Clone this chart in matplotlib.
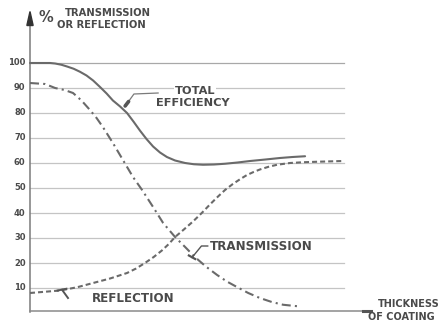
import matplotlib
matplotlib.use("Agg")
import matplotlib.pyplot as plt
from matplotlib.patches import Polygon

plt.rcParams["lines.scale_dashes"] = False
plt.rcParams["font.family"] = ["DejaVu Sans"]

# Coating thickness (arbitrary units, 0-100) and percentages
eff_x = [0, 6.4, 8, 10, 11.8, 13.9, 15.9, 18, 20.1, 22.3, 24.4, 26.4, 28.7, 30.9, 33, 35, 37.1,
         39.2, 41.4, 43.6, 46.2, 49.4, 52.2, 55.1, 58.6, 62.1, 66.1, 70.1, 75, 79.6, 83.6, 87.6]
eff_y = [100, 100, 99.8, 99.3, 98.6, 97.7, 96.5, 95, 93, 90.4, 87.8, 85, 82.6, 80, 76.5, 73, 69.6,
         66.6, 64.2, 62.4, 61, 60, 59.5, 59.3, 59.4, 59.7, 60.2, 60.8, 61.4, 62, 62.4, 62.7]

dashdot_x = [0, 4.8, 8, 11, 13.7, 16.4, 19.1, 21.2, 23.2, 26.4, 29.6, 32.8, 35.7, 39.2, 42.4, 46.2,
             49.4, 52.5, 56, 59.6, 62.7, 65.9, 69.5, 73.2, 77, 80.6, 86]
dashdot_y = [92, 91.6, 90, 89.2, 88, 85, 81.2, 78, 74.4, 68, 61.2, 54.4, 49.2, 42.4, 36, 30.4,
             26.4, 22.4, 18.6, 15.2, 12.6, 10.4, 8, 6, 4.4, 3.3, 2.6]

dashed_x = [0, 9.6, 15, 20.1, 25.5, 30.9, 33.8, 36.6, 39.4, 42, 44.2, 46.2, 49, 51.9, 54.7, 57.3,
            59.8, 62.1, 64.6, 67, 69.1, 71.2, 73.2, 76, 78.7, 82.8, 87, 91.4, 99.7]
dashed_y = [8, 9, 10.3, 12, 13.8, 16, 17.8, 20, 22.4, 25, 27.6, 30.4, 33.4, 36.6, 40, 43.4,
            46.5, 49.2, 51.6, 53.6, 55.2, 56.4, 57.4, 58.5, 59.3, 60, 60.3, 60.5, 60.8]

y_ticks = [10, 20, 30, 40, 50, 60, 70, 80, 90, 100]
y_tick_labels = [str(v) for v in y_ticks]

CURVE = "#6a6a6a"
TEXT = "#4a4a4a"
GRID = "#c4c4c4"

fig = plt.figure(figsize=(4.48, 3.23), dpi=100)
ax = fig.add_axes([0, 0, 1, 1])
ax.set_xlim(-9.554, 133.12)
ax.set_ylim(-4, 125.2)
ax.axis("off")

# horizontal rulings with their scale labels
for v, lab in zip(y_ticks, y_tick_labels):
    ax.plot([0, 100], [v, v], color=GRID if v != 100 else "#a8a8a8", lw=0.9, zorder=1)
    ax.text(-1.4, v, lab, ha="right", va="center", fontsize=6, fontweight="bold", color=TEXT)

# axes with arrows
ax.plot([0, 0], [0.5, 116], color="#7a7a7a", lw=1.1, zorder=2)
ax.add_patch(Polygon([[-1.0, 115], [1.0, 115], [0, 120.6]], closed=True, color="#333333", zorder=3))
ax.plot([0, 108], [0.7, 0.7], color="#8a8a8a", lw=1.1, zorder=2)
ax.plot([106, 108.5], [0.8, 0.8], color="#555555", lw=2.2, zorder=3)

# curves
ax.plot(eff_x, eff_y, color=CURVE, lw=1.5, solid_capstyle="round", solid_joinstyle="round", zorder=4)
ax.plot(dashdot_x, dashdot_y, color=CURVE, lw=1.5, dashes=(6.5, 3, 1.5, 3), zorder=4)
ax.plot(dashed_x, dashed_y, color=CURVE, lw=1.5, dashes=(3.6, 2.2), zorder=4)

# annotations
lbl = dict(fontweight="bold", color=TEXT, zorder=5)
ax.text(52.5, 88.8, "TOTAL", ha="center", va="center", fontsize=8.2,
        bbox=dict(facecolor="white", edgecolor="none", pad=0.5), **lbl)
ax.text(51.9, 84.0, "EFFICIENCY", ha="center", va="center", fontsize=8.2, **lbl)
ax.plot([40.8, 33.1, 30.8], [88.0, 87.6, 83.6], color="#7a7a7a", lw=0.9, zorder=4)
ax.plot([31.4, 30.3], [84.6, 82.8], color="#555555", lw=2.6, solid_capstyle="round", zorder=4)

ax.text(57.3, 26.6, "TRANSMISSION", ha="left", va="center", fontsize=8.6, **lbl)
ax.plot([56.6, 54.6, 51.6], [26.8, 26.8, 22.2], color="#555555", lw=1.0, zorder=4)
ax.plot([50.6, 52.6], [23.0, 21.6], color="#555555", lw=1.6, zorder=4)

ax.text(19.7, 5.6, "REFLECTION", ha="left", va="center", fontsize=8.6, **lbl)
ax.plot([10.2, 12.1], [9.3, 6.0], color="#555555", lw=1.4, zorder=4)
ax.plot([8.8, 11.6], [9.0, 9.7], color="#555555", lw=1.4, zorder=4)

ax.text(5.0, 118.3, "%", ha="center", va="center", fontsize=10.5, **lbl)
ax.text(11.1, 119.8, "TRANSMISSION", ha="left", va="center", fontsize=7.2, **lbl)
ax.text(8.6, 115.0, "OR REFLECTION", ha="left", va="center", fontsize=7.2, **lbl)

ax.text(110.8, 3.6, "THICKNESS", ha="left", va="center", fontsize=7.0, **lbl)
ax.text(107.6, -1.6, "OF COATING", ha="left", va="center", fontsize=7.0, **lbl)

fig.savefig("out.png", dpi=100, facecolor="white")
